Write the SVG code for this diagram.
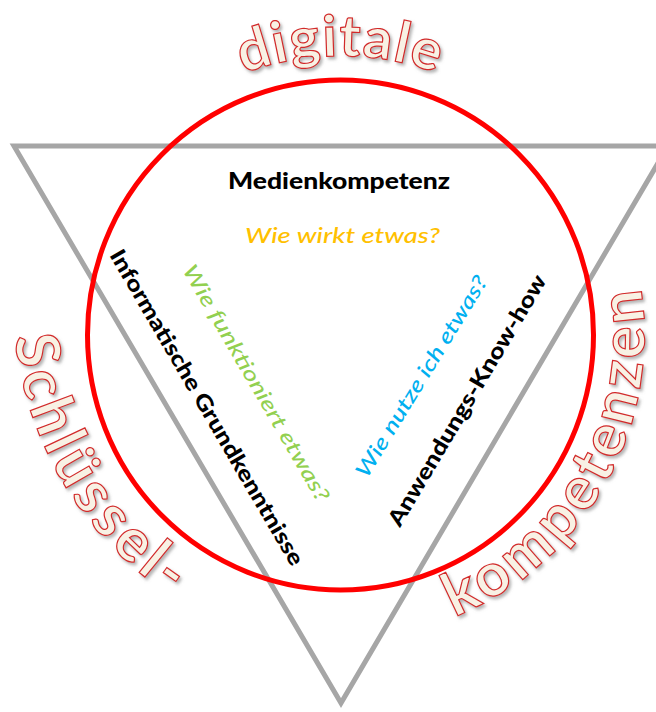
<svg xmlns="http://www.w3.org/2000/svg" width="656" height="712" viewBox="0 0 656 712">
<style>
.lbl{font-family:Lato,"Open Sans","Liberation Sans",sans-serif;}
.b{font-weight:900;fill:#000;font-size:22px;}
.q{font-style:italic;font-weight:500;font-size:21px;}
.wa{font-family:Lato,"Open Sans","Liberation Sans",sans-serif;font-weight:bold;fill:#f8f1e4;stroke:#d22b2b;stroke-width:1.2;filter:url(#sh);}
</style>
<defs>
<filter id="sh" x="-10%" y="-10%" width="130%" height="130%">
<feDropShadow dx="2" dy="2.5" stdDeviation="1.8" flood-color="#777" flood-opacity="0.55"/>
</filter>
<path id="pTop" d="M61.5,335 A279,279 0 0 1 619.5,335"/>
<path id="pLeft" d="M13.9,324.9 A357,357 0 0 0 308,651.6"/>
<path id="pRight" d="M287.7,634.4 A304,304 0 0 0 634.1,256.3"/>
</defs>
<rect width="656" height="712" fill="#fff"/>
<g id="triangle">
<polygon points="14,146 668,146 341,703" fill="none" stroke="#a6a6a6" stroke-width="5" stroke-linejoin="miter"/>
</g>
<g id="circle">
<ellipse cx="340.5" cy="335" rx="253" ry="255" fill="none" stroke="#ff0000" stroke-width="5"/>
</g>
<g id="wordart">
<text class="wa" font-size="57" letter-spacing="1.5"><textPath href="#pTop" startOffset="50%" text-anchor="middle">digitale</textPath></text>
<text class="wa" font-size="60" letter-spacing="5"><textPath href="#pLeft" startOffset="12">Schlüssel-</textPath></text>
<text class="wa" font-size="60" letter-spacing="4.5"><textPath href="#pRight" startOffset="170">kompetenzen</textPath></text>
</g>
<g id="connectors"></g>
<g id="medienkompetenz">
<text class="lbl b" x="228" y="189" textLength="222" lengthAdjust="spacingAndGlyphs">Medienkompetenz</text>
</g>
<g id="wie-wirkt">
<text class="lbl q" x="245" y="243" fill="#ffc000" textLength="195" lengthAdjust="spacingAndGlyphs">Wie wirkt etwas?</text>
</g>
<g id="informatische">
<text class="lbl b" transform="translate(109,255) rotate(59.7)" textLength="362" lengthAdjust="spacingAndGlyphs">Informatische Grundkenntnisse</text>
</g>
<g id="wie-funktioniert">
<text class="lbl q" transform="translate(182,270) rotate(59.8)" fill="#92d050" textLength="270" lengthAdjust="spacingAndGlyphs">Wie funktioniert etwas?</text>
</g>
<g id="wie-nutze">
<text class="lbl q" transform="translate(367,479) rotate(-58.5)" fill="#00b0f0" textLength="232" lengthAdjust="spacingAndGlyphs">Wie nutze ich etwas?</text>
</g>
<g id="anwendungs">
<text class="lbl b" transform="translate(400,528) rotate(-59.3)" textLength="288" lengthAdjust="spacingAndGlyphs">Anwendungs-Know-how</text>
</g>
</svg>
